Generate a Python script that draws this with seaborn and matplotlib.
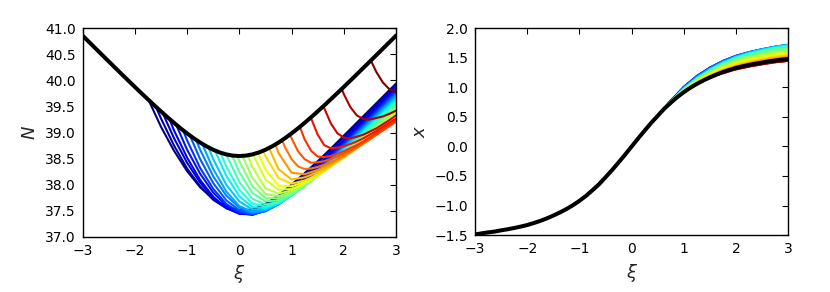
import numpy as np
import pandas as pd
import matplotlib
matplotlib.use("Agg")
import matplotlib.pyplot as plt
import seaborn as sns

# === Data ===
# thick black reference curves, sampled every 0.125 in xi
xi_grid = np.arange(-3, 3.001, 0.125)
N_black = [40.859, 40.735, 40.611, 40.487, 40.364, 40.241, 40.118, 39.996, 39.875, 39.755, 39.637, 39.520,
           39.406, 39.294, 39.186, 39.082, 38.984, 38.892, 38.808, 38.734, 38.670, 38.619, 38.581, 38.558,
           38.550,
           38.558, 38.581, 38.619, 38.670, 38.734, 38.808, 38.892, 38.984, 39.082, 39.186, 39.294, 39.406,
           39.520, 39.637, 39.755, 39.875, 39.996, 40.118, 40.241, 40.364, 40.487, 40.611, 40.735, 40.859]
x_black = [-1.490, -1.471, -1.455, -1.441, -1.420, -1.402, -1.380, -1.357, -1.330, -1.297, -1.260, -1.218,
           -1.170, -1.118, -1.060, -0.995, -0.920, -0.837, -0.740, -0.640, -0.520, -0.400, -0.270, -0.137,
           0.000,
           0.137, 0.270, 0.400, 0.520, 0.640, 0.740, 0.837, 0.920, 0.995, 1.060, 1.118, 1.170,
           1.218, 1.260, 1.297, 1.330, 1.357, 1.380, 1.402, 1.420, 1.441, 1.455, 1.471, 1.480]

# where each coloured curve leaves the black one
xi_start = [-1.74, -1.60, -1.47, -1.34, -1.21, -1.08, -0.95, -0.83, -0.71, -0.59, -0.47, -0.36, -0.25,
            -0.14, -0.04, 0.06, 0.16, 0.26, 0.36, 0.46, 0.57, 0.69, 0.82, 0.97, 1.16, 1.37, 1.61, 1.96, 2.52]

# N along each coloured curve: start value, then grid points after the start
# (grid step 0.25, or 0.125 for the late curves with short hooks)
N_paths = [
    [39.63, 39.11, 38.65, 38.26, 37.95, 37.73, 37.58, 37.51, 37.52, 37.63, 37.79, 38.00, 38.22, 38.45, 38.69, 38.94, 39.19, 39.44, 39.69, 39.94],
    [39.50, 39.27, 38.75, 38.31, 37.97, 37.71, 37.55, 37.47, 37.48, 37.59, 37.76, 37.96, 38.18, 38.42, 38.66, 38.91, 39.15, 39.41, 39.66, 39.91],
    [39.38, 38.89, 38.42, 38.04, 37.75, 37.56, 37.46, 37.45, 37.54, 37.70, 37.90, 38.13, 38.37, 38.61, 38.86, 39.11, 39.37, 39.62, 39.88],
    [39.26, 39.04, 38.52, 38.09, 37.77, 37.55, 37.44, 37.43, 37.52, 37.68, 37.88, 38.11, 38.34, 38.59, 38.83, 39.09, 39.34, 39.59, 39.85],
    [39.15, 38.67, 38.21, 37.85, 37.60, 37.46, 37.42, 37.50, 37.65, 37.84, 38.07, 38.30, 38.55, 38.80, 39.05, 39.30, 39.56, 39.82],
    [39.05, 38.85, 38.32, 37.92, 37.63, 37.47, 37.43, 37.50, 37.65, 37.85, 38.06, 38.30, 38.54, 38.78, 39.03, 39.28, 39.54, 39.79],
    [38.95, 38.49, 38.03, 37.70, 37.51, 37.44, 37.49, 37.63, 37.82, 38.03, 38.26, 38.50, 38.75, 39.00, 39.25, 39.50, 39.76],
    [38.86, 38.67, 38.16, 37.79, 37.56, 37.46, 37.49, 37.62, 37.80, 38.01, 38.24, 38.48, 38.72, 38.97, 39.22, 39.47, 39.73],
    [38.78, 38.30, 37.87, 37.59, 37.48, 37.51, 37.63, 37.81, 38.02, 38.24, 38.47, 38.71, 38.96, 39.20, 39.45, 39.70],
    [38.71, 38.49, 38.00, 37.68, 37.52, 37.53, 37.63, 37.80, 38.00, 38.22, 38.45, 38.68, 38.93, 39.17, 39.41, 39.66],
    [38.66, 38.17, 37.78, 37.57, 37.55, 37.64, 37.79, 37.99, 38.20, 38.43, 38.66, 38.90, 39.14, 39.38, 39.63],
    [38.61, 38.35, 37.90, 37.64, 37.58, 37.65, 37.79, 37.98, 38.19, 38.41, 38.64, 38.87, 39.11, 39.35, 39.59],
    [38.58, 38.05, 37.73, 37.62, 37.67, 37.80, 37.97, 38.17, 38.39, 38.62, 38.84, 39.08, 39.31, 39.55],
    [38.56, 38.24, 37.84, 37.68, 37.70, 37.81, 37.98, 38.17, 38.38, 38.60, 38.82, 39.05, 39.28, 39.51],
    [38.55, 38.45, 37.97, 37.74, 37.74, 37.83, 37.99, 38.17, 38.37, 38.58, 38.80, 39.02, 39.24, 39.47],
    [38.55, 38.13, 37.82, 37.78, 37.86, 38.00, 38.17, 38.36, 38.57, 38.78, 38.99, 39.21, 39.43],
    [38.56, 38.34, 37.93, 37.83, 37.89, 38.02, 38.18, 38.37, 38.56, 38.76, 38.97, 39.18, 39.39],
    [38.58, 38.10, 37.90, 37.92, 38.02, 38.17, 38.35, 38.53, 38.73, 38.94, 39.14, 39.35],
    [38.61, 38.29, 37.98, 37.97, 38.05, 38.19, 38.35, 38.53, 38.72, 38.91, 39.11, 39.31],
    [38.65, 38.55, 38.13, 38.02, 38.08, 38.19, 38.35, 38.52, 38.70, 38.88, 39.08, 39.27],
    [38.70, 38.30, 38.10, 38.14, 38.24, 38.38, 38.53, 38.70, 38.88, 39.06, 39.24],
    [38.77, 38.61, 38.23, 38.20, 38.28, 38.40, 38.55, 38.71, 38.87, 39.05, 39.22],
    [38.85, 38.72, 38.49, 38.35, 38.30, 38.31, 38.34, 38.38, 38.43, 38.49, 38.56, 38.64, 38.71, 38.79, 38.87, 38.96, 39.04, 39.12, 39.21],
    [38.96, 38.89, 38.64, 38.49, 38.42, 38.43, 38.45, 38.49, 38.54, 38.60, 38.66, 38.73, 38.81, 38.89, 38.96, 39.04, 39.13, 39.21],
    [39.11, 38.87, 38.65, 38.54, 38.53, 38.55, 38.59, 38.64, 38.70, 38.76, 38.83, 38.91, 38.99, 39.07, 39.15, 39.23],
    [39.29, 39.27, 38.96, 38.76, 38.70, 38.71, 38.74, 38.78, 38.83, 38.89, 38.96, 39.03, 39.11, 39.19, 39.27],
    [39.51, 39.47, 39.18, 38.99, 38.90, 38.89, 38.92, 38.96, 39.02, 39.08, 39.16, 39.24, 39.33],
    [39.84, 39.74, 39.49, 39.33, 39.26, 39.25, 39.28, 39.31, 39.36, 39.42],
    [40.38, 40.16, 39.96, 39.83, 39.77],
]

# offset of each coloured x curve above the black one, at xi = 0.75, 1.0, ..., 3.0
dx_paths = [
    [0.030, 0.080, 0.120, 0.150, 0.170, 0.185, 0.195, 0.200, 0.205, 0.210],
    [0.032, 0.082, 0.123, 0.153, 0.174, 0.189, 0.200, 0.206, 0.211, 0.215],
    [0.033, 0.084, 0.125, 0.156, 0.178, 0.194, 0.205, 0.211, 0.216, 0.220],
    [0.034, 0.086, 0.128, 0.160, 0.182, 0.198, 0.209, 0.216, 0.221, 0.225],
    [0.035, 0.087, 0.131, 0.163, 0.186, 0.202, 0.214, 0.221, 0.225, 0.230],
    [0.035, 0.089, 0.134, 0.167, 0.190, 0.207, 0.219, 0.226, 0.230, 0.235],
    [0.029, 0.077, 0.120, 0.154, 0.180, 0.199, 0.216, 0.226, 0.235, 0.240],
    [0.028, 0.076, 0.119, 0.153, 0.179, 0.198, 0.215, 0.226, 0.235, 0.242],
    [0.024, 0.068, 0.110, 0.144, 0.171, 0.192, 0.211, 0.223, 0.234, 0.240],
    [0.021, 0.063, 0.103, 0.137, 0.164, 0.186, 0.204, 0.218, 0.228, 0.235],
    [0.018, 0.058, 0.097, 0.129, 0.156, 0.179, 0.198, 0.212, 0.223, 0.230],
    [0.018, 0.055, 0.092, 0.123, 0.150, 0.172, 0.189, 0.202, 0.213, 0.220],
    [0.017, 0.053, 0.088, 0.118, 0.143, 0.164, 0.181, 0.193, 0.204, 0.210],
    [0.015, 0.048, 0.080, 0.106, 0.129, 0.148, 0.163, 0.175, 0.184, 0.190],
    [0.014, 0.043, 0.071, 0.095, 0.116, 0.133, 0.146, 0.156, 0.165, 0.170],
    [0.012, 0.038, 0.063, 0.084, 0.102, 0.117, 0.129, 0.138, 0.146, 0.150],
    [0.010, 0.033, 0.055, 0.073, 0.088, 0.101, 0.112, 0.120, 0.126, 0.130],
    [0.009, 0.028, 0.046, 0.062, 0.075, 0.086, 0.095, 0.101, 0.107, 0.110],
    [0.007, 0.023, 0.038, 0.050, 0.061, 0.070, 0.077, 0.083, 0.087, 0.090],
    [0.006, 0.018, 0.029, 0.039, 0.048, 0.055, 0.060, 0.064, 0.068, 0.070],
    [0.004, 0.013, 0.021, 0.028, 0.034, 0.039, 0.043, 0.046, 0.049, 0.050],
    [0.003, 0.009, 0.015, 0.020, 0.024, 0.027, 0.030, 0.032, 0.034, 0.035],
    [0.002, 0.005, 0.008, 0.011, 0.014, 0.016, 0.017, 0.018, 0.019, 0.020],
    [0.001, 0.003, 0.004, 0.006, 0.007, 0.008, 0.009, 0.009, 0.010, 0.010],
    [-0.001, -0.003, -0.005, -0.007, -0.008, -0.009, -0.010, -0.011, -0.012, -0.012],
    [-0.002, -0.006, -0.010, -0.013, -0.016, -0.018, -0.020, -0.021, -0.022, -0.023],
    [-0.003, -0.008, -0.013, -0.017, -0.021, -0.024, -0.026, -0.028, -0.029, -0.030],
    [-0.003, -0.008, -0.013, -0.017, -0.021, -0.024, -0.026, -0.028, -0.029, -0.030],
    [-0.002, -0.007, -0.011, -0.015, -0.018, -0.021, -0.023, -0.025, -0.026, -0.027],
]

# === Build long-form tables ===
xi_coarse = xi_grid[::2]
x_coarse = np.array(x_black)[::2]

left_rows, right_rows = [], []
for i, (x0, n_vals, dx_vals) in enumerate(zip(xi_start, N_paths, dx_paths)):
    step = 0.125 if x0 > 0.8 else 0.25
    grid = np.arange(-1.5, 3.001, step)
    xs = np.r_[x0, grid[grid > x0]]
    for a, b in zip(xs, n_vals):
        left_rows.append((i, a, b))

    offset = np.zeros(len(xi_coarse))
    offset[-len(dx_vals):] = dx_vals
    keep = xi_coarse >= x0
    for a, b in zip(xi_coarse[keep], (x_coarse + offset)[keep]):
        right_rows.append((i, a, b))

df_left = pd.DataFrame(left_rows, columns=["curve", "xi", "N"])
df_right = pd.DataFrame(right_rows, columns=["curve", "xi", "x"])
colors = [plt.cm.jet(v) for v in np.linspace(0, 1, len(xi_start))]

# === Plot ===
sns.set_style("white")
plt.rcParams["font.family"] = ["DejaVu Sans"]

fig = plt.figure(figsize=(8.3, 2.92), dpi=100)
ax1 = fig.add_axes([0.0996, 0.189, 0.3775, 0.714])
ax2 = fig.add_axes([0.5723, 0.195, 0.3775, 0.708])

sns.lineplot(data=df_left, x="xi", y="N", hue="curve", palette=colors, legend=False,
             estimator=None, lw=1.5, ax=ax1)
sns.lineplot(x=xi_grid, y=N_black, color="black", lw=2.9, ax=ax1)

sns.lineplot(data=df_right, x="xi", y="x", hue="curve", palette=colors, legend=False,
             estimator=None, lw=1.5, ax=ax2)
sns.lineplot(x=xi_grid, y=x_black, color="black", lw=2.9, ax=ax2)

ax1.set_xlim(-3, 3)
ax1.set_ylim(37, 41)
ax1.set_yticks(np.arange(37, 41.01, 0.5))
ax1.set_ylabel("$N$", fontsize=13)

ax2.set_xlim(-3, 3)
ax2.set_ylim(-1.5, 2.0)
ax2.set_yticks(np.arange(-1.5, 2.01, 0.5))
ax2.set_ylabel("$x$", fontsize=13)

for ax in (ax1, ax2):
    ax.set_xticks(np.arange(-3, 4, 1))
    ax.set_xlabel(r"$\xi$", fontsize=13)
    ax.tick_params(direction="in", top=True, right=True, length=4, width=0.8,
                   labelsize=10, colors="black", pad=5)
    for s in ax.spines.values():
        s.set_color("black")
        s.set_linewidth(1.0)

fig.savefig("out.png", dpi=100)
